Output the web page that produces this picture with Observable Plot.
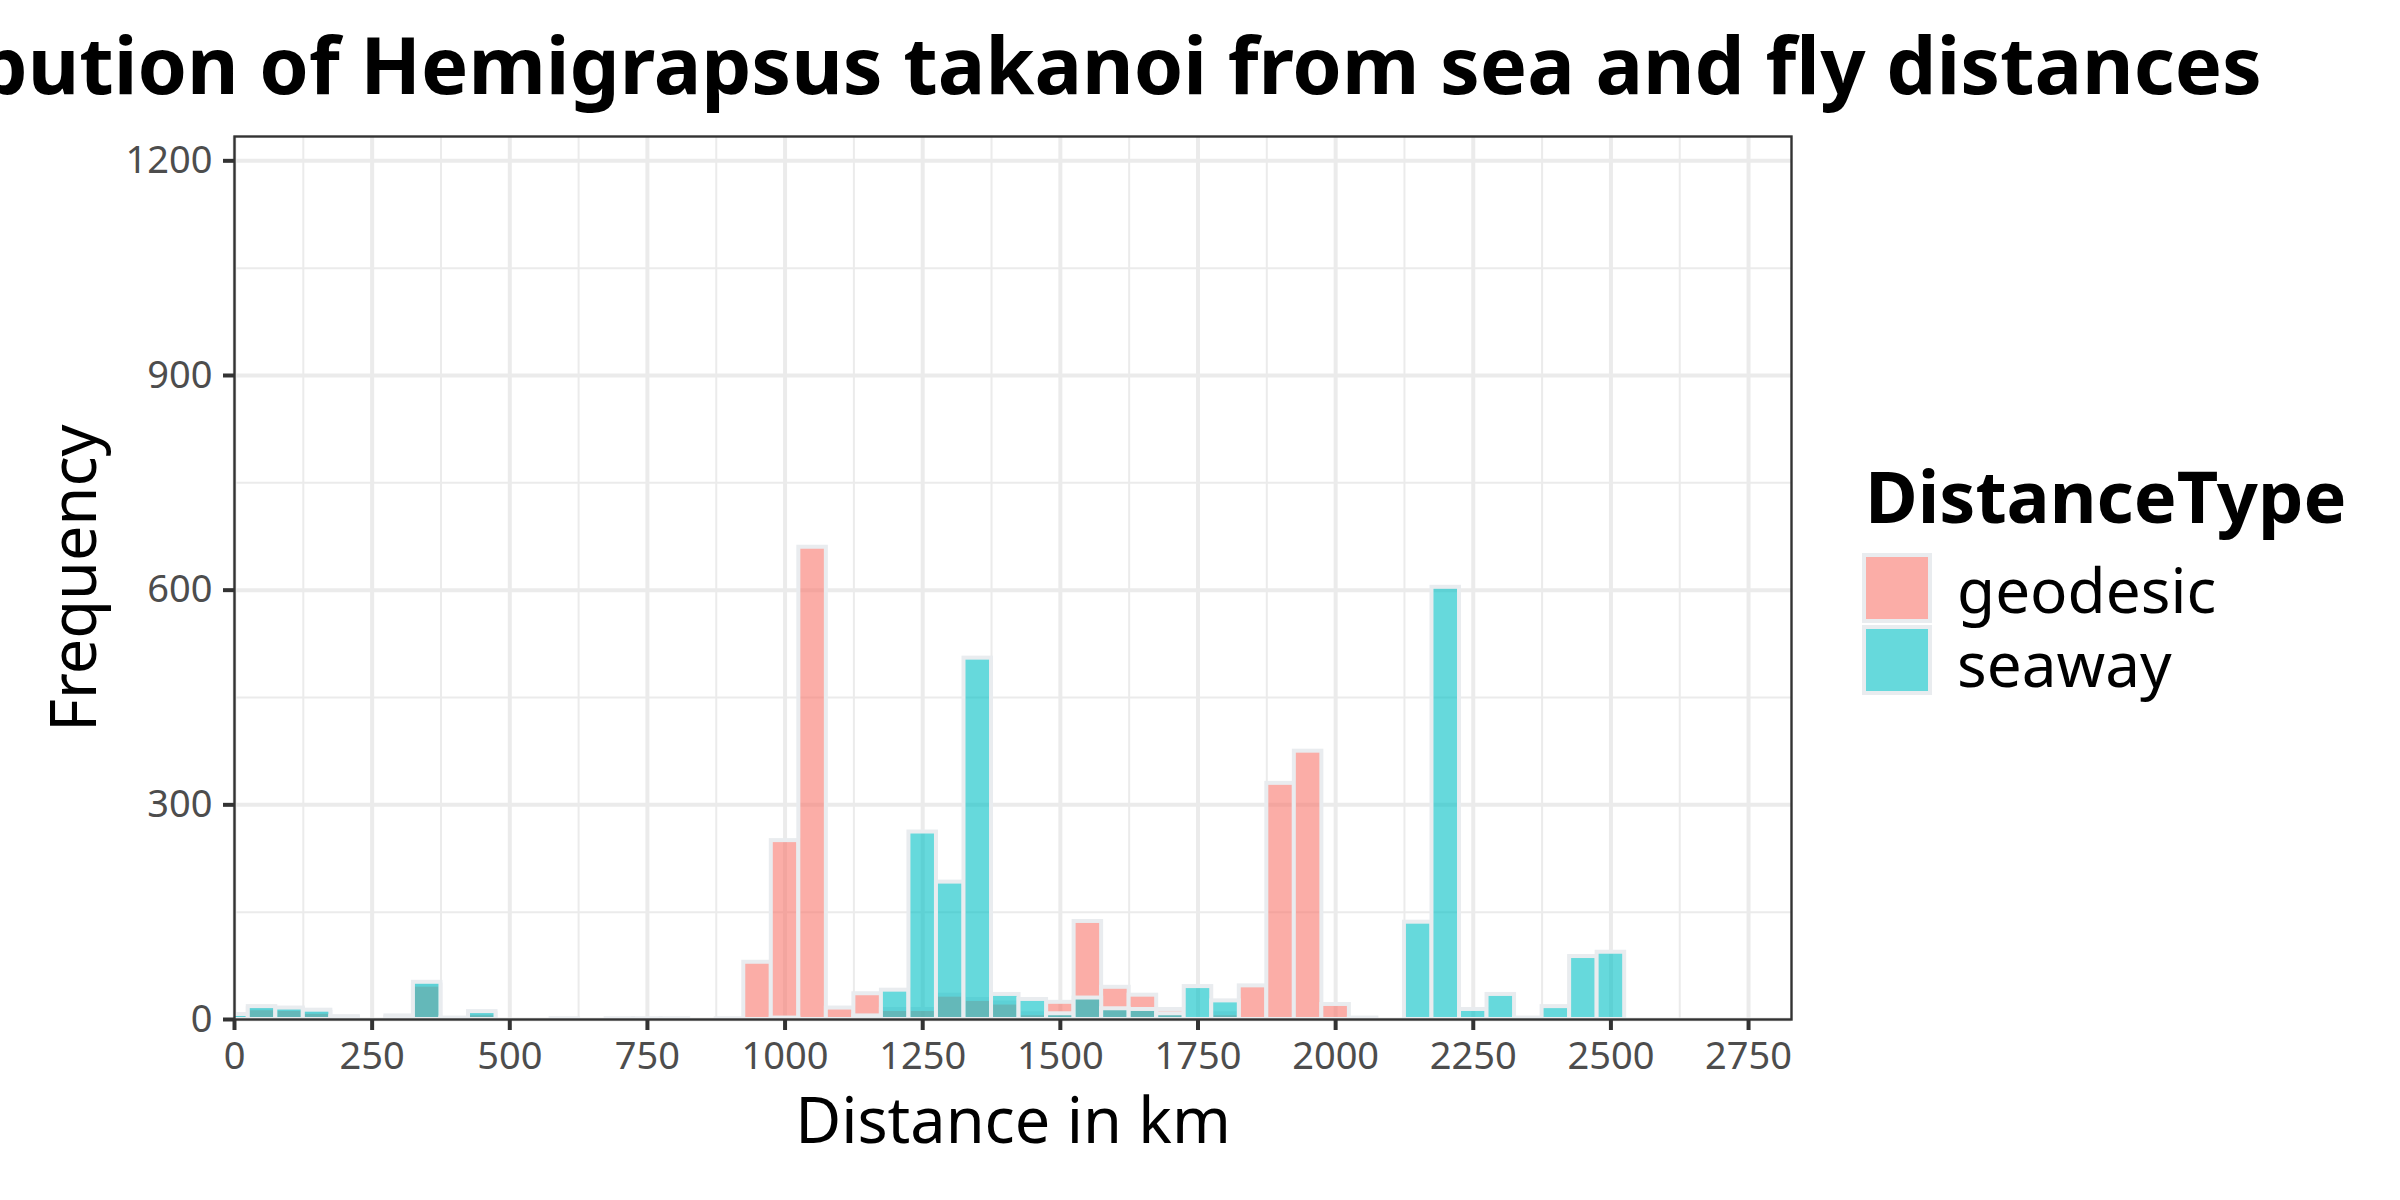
<!DOCTYPE html>
<html>
<head>
<meta charset="utf-8">
<script src="https://cdn.jsdelivr.net/npm/d3@7"></script>
<script src="https://cdn.jsdelivr.net/npm/@observablehq/plot@0.6"></script>
<style>
  html, body { margin: 0; padding: 0; background: #ffffff; }
  #wrap { position: relative; width: 2400px; height: 1200px; overflow: hidden; background: #ffffff; font-family: "Noto Sans", sans-serif; }
  #title { position: absolute; z-index: 2; left: 1012px; top: 24px; transform: translateX(-50%); white-space: nowrap; font-weight: bold; font-size: 79.4px; line-height: 1; color: #000; }
  #chart { position: absolute; z-index: 1; left: 0; top: 100px; }
  #legend { position: absolute; z-index: 2; left: 0; top: 0; }
  .lg-title { position: absolute; left: 1865px; top: 459px; font-weight: bold; font-size: 72px; line-height: 1; white-space: nowrap; color: #000; }
  .lg-key { position: absolute; left: 1862px; width: 70px; height: 70px; box-sizing: border-box; border: 4px solid #e9ecef; }
  .lg-label { position: absolute; left: 1957px; font-size: 62px; line-height: 1; white-space: nowrap; color: #000; }
</style>
</head>
<body>
<div id="wrap">
  <div id="title"></div>
  <div id="chart"></div>
  <div id="legend"></div>
</div>
<script>
// ---- data (bin centres, 50 km bins) ----
const binCenters = [0,50,100,150,200,250,300,350,400,450,500,550,600,650,700,750,800,850,900,950,
  1000,1050,1100,1150,1200,1250,1300,1350,1400,1450,1500,1550,1600,1650,1700,1750,1800,1850,1900,1950,
  2000,2050,2100,2150,2200,2250,2300,2350,2400,2450,2500];
const binWidth = 50;
const geodesicCounts = [5,15,14,10,2,0,3,48,1,8,0,0,1,0,1,1,1,0,1,80,
  250,660,16,36,14,14,34,28,23,8,24,137,45,34,14,0,8,47,330,375,
  21,2,null,null,null,null,null,null,null,null,null];
const seawayCounts = [7,18,16,13,4,0,5,52,2,11,0,0,0,0,0,0,0,0,0,0,
  2,0,0,5,41,262,192,505,35,28,8,30,15,14,8,46,26,0,0,0,
  0,0,0,136,604,14,35,2,18,88,94];
const seriesNames = ["geodesic", "seaway"];
const seriesColors = ["#F8766D", "#00BFC4"];
const xTicks = [0,250,500,750,1000,1250,1500,1750,2000,2250,2500,2750];
const xMinor = [125,375,625,875,1125,1375,1625,1875,2125,2375,2625];
const yTicks = [0,300,600,900,1200];
const yMinor = [150,450,750,1050];
const titleText = "Distribution of Hemigrapsus takanoi from sea and fly distances";
const xLabel = "Distance in km";
const yLabel = "Frequency";
const legendTitle = "DistanceType";

document.getElementById("title").textContent = titleText;

// ---- build table ----
const rows = [];
[geodesicCounts, seawayCounts].forEach((counts, s) => {
  counts.forEach((c, i) => {
    if (c === null) return;
    rows.push({type: seriesNames[s], x1: binCenters[i] - binWidth / 2, x2: binCenters[i] + binWidth / 2, count: c});
  });
});

const grid = "#EBEBEB";
const fmt = d => String(d);
const chart = Plot.plot({
  width: 1850,
  height: 1100,
  marginLeft: 234,
  marginRight: 59,
  marginTop: 36,
  marginBottom: 181,
  x: {domain: [0, 2828]},
  y: {domain: [0, 1234]},
  color: {domain: seriesNames, range: seriesColors},
  style: {fontFamily: "Noto Sans", background: "transparent", overflow: "visible"},
  marks: [
    Plot.gridX(xMinor, {stroke: grid, strokeOpacity: 1, strokeWidth: 2}),
    Plot.gridY(yMinor, {stroke: grid, strokeOpacity: 1, strokeWidth: 2}),
    Plot.gridX(xTicks, {stroke: grid, strokeOpacity: 1, strokeWidth: 4}),
    Plot.gridY(yTicks, {stroke: grid, strokeOpacity: 1, strokeWidth: 4}),
    Plot.rectY(rows, {x1: "x1", x2: "x2", y1: 0, y2: "count", fill: "type", fillOpacity: 0.6,
      stroke: "#e9ecef", strokeWidth: 4, inset: 0, clip: true}),
    Plot.frame({stroke: "#333333", strokeWidth: 2.4}),
    Plot.axisX(xTicks, {tickSize: 11, tickPadding: 12, fontSize: 38, stroke: "#333333", strokeWidth: 4,
      fill: "#4D4D4D", label: null, tickFormat: fmt}),
    Plot.axisY(yTicks, {tickSize: 11, tickPadding: 11, fontSize: 38, stroke: "#333333", strokeWidth: 4,
      fill: "#4D4D4D", label: null, tickFormat: fmt}),
    Plot.text([xLabel], {text: d => d, frameAnchor: "bottom", dy: 123, fontSize: 63, lineAnchor: "bottom",
      textAnchor: "middle", fill: "#000"}),
    Plot.text([yLabel], {text: d => d, frameAnchor: "left", rotate: -90, dx: -139, fontSize: 63, lineAnchor: "bottom",
      textAnchor: "middle", fill: "#000"})
  ]
});
document.getElementById("chart").appendChild(chart);

// ---- legend ----
const lg = document.getElementById("legend");
const lt = document.createElement("div");
lt.className = "lg-title";
lt.textContent = legendTitle;
lg.appendChild(lt);
const keyTops = [553, 625];
const labelTops = [558, 632];
seriesNames.forEach((name, i) => {
  const k = document.createElement("div");
  k.className = "lg-key";
  k.style.top = keyTops[i] + "px";
  const c = d3.color(seriesColors[i]);
  c.opacity = 0.6;
  k.style.background = c.formatRgb();
  lg.appendChild(k);
  const l = document.createElement("div");
  l.className = "lg-label";
  l.style.top = labelTops[i] + "px";
  l.textContent = name;
  lg.appendChild(l);
});
</script>
</body>
</html>
